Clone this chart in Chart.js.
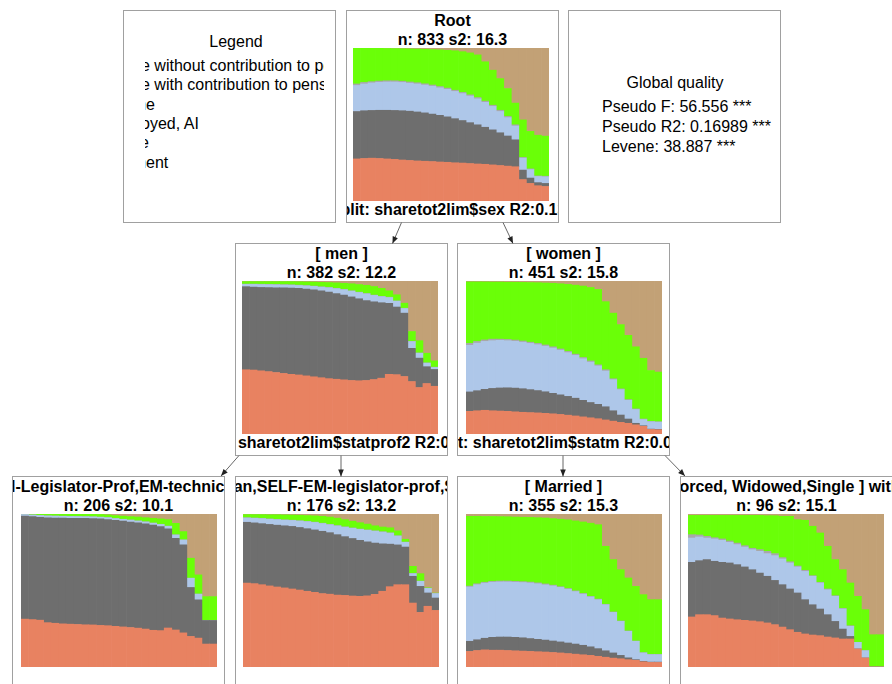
<!DOCTYPE html>
<html>
<head>
<meta charset="utf-8">
<script src="https://cdn.jsdelivr.net/npm/chart.js@4.4.1/dist/chart.umd.min.js"></script>
<style>
  html, body { margin:0; padding:0; background:#fff; }
  body { width:892px; height:684px; overflow:hidden; position:relative;
         font-family:"Liberation Sans", Arial, sans-serif; color:#000; }
  .box { position:absolute; border:1px solid #a0a0a0; box-sizing:border-box; overflow:hidden; background:#fff; }
  .txt { position:absolute; white-space:nowrap; font-size:16px; line-height:18px; }
  .b { font-weight:bold; }
  .c { transform:translateX(-50%); }
  canvas.plot { position:absolute; }
</style>
</head>
<body>
<script>
// ---------------- categories / labels ----------------
const ages = ['40','41','42','43','44','45','46','47','48','49','50','51','52','53','54','55','56','57','58','59','60','61','62','63','64','65'];
const stateLabels = [
  'Employee without contribution to pension',
  'Employee with contribution to pension',
  'Part-time',
  'Unemployed, AI',
  'Housewife',
  'Retirement'
];
const stateColors = ['rgb(232,130,97)','rgb(110,110,110)','rgb(174,199,233)','rgb(168,168,168)','rgb(106,255,8)','rgb(194,161,118)'];

// ------------- values: cumulative share (%) from the bottom up to state k -------------
// Root (n=833)
const root_b1 = [27.5,27.8,28.0,27.8,27.5,27.2,26.8,26.5,26.2,26.0,25.8,25.5,25.3,25.0,24.8,24.5,24.2,24.0,23.6,23.2,22.8,22.4,14.0,11.5,10.0,9.5];
const root_b2 = [58.5,59.0,59.2,59.3,59.3,59.2,59.0,58.7,58.2,57.6,56.8,56.0,55.0,53.8,52.6,51.2,49.8,48.2,46.5,44.6,42.5,40.0,20.2,15.0,12.0,11.5];
const root_b3 = [75.5,76.5,77.2,77.6,77.8,77.8,77.5,77.0,76.5,75.8,75.0,74.0,73.0,71.6,70.2,68.6,66.8,64.5,61.8,58.5,54.5,49.0,28.0,20.5,16.0,15.8];
const root_b4 = [76.5,77.5,78.0,78.4,78.6,78.6,78.3,77.8,77.3,76.6,75.8,74.8,73.8,72.4,71.0,69.4,67.6,65.3,62.6,59.3,55.3,49.8,28.5,21.0,16.4,16.2];
const root_b5 = [100,100,100,99.8,99.7,99.6,99.5,99.4,99.3,99.2,99.0,98.8,98.5,98.2,97.6,96.8,95.5,91.0,85.5,80.0,73.5,64.0,53.0,45.5,43.0,42.4];
// [ men ] (n=382)
const men_b1 = [42.0,41.8,41.3,40.8,40.2,39.6,39.0,38.6,38.0,37.4,36.8,36.2,35.8,35.4,35.0,34.8,35.0,35.6,36.5,39.0,38.8,37.6,34.3,30.4,33.0,31.2];
const men_b2 = [96.3,96.0,95.8,95.7,95.6,95.5,95.4,95.2,94.8,94.2,93.6,92.8,91.8,90.8,89.6,88.4,87.2,86.4,85.8,85.4,83.0,79.0,56.0,49.6,44.0,42.2];
const men_b3 = [97.8,97.8,97.7,97.6,97.5,97.4,97.3,97.1,96.8,96.5,96.0,95.6,95.0,94.3,93.4,92.5,91.6,90.6,89.8,89.2,86.8,82.0,60.4,52.8,46.3,43.5];
const men_b4 = [98.0,98.0,97.9,97.8,97.7,97.6,97.5,97.3,97.0,96.7,96.2,95.8,95.2,94.5,93.6,92.7,91.8,90.8,90.0,89.4,87.0,82.2,60.6,53.0,46.5,43.7];
const men_b5 = [99.6,99.6,99.6,99.6,99.6,99.6,99.6,99.5,99.4,99.3,99.1,99.0,98.8,98.5,98.2,97.7,97.2,96.4,95.2,93.6,91.0,85.5,67.0,61.0,52.8,47.8];
// [ women ] (n=451)
const women_b1 = [14.8,15.2,15.5,15.2,15.0,14.8,14.5,14.2,14.0,13.8,13.5,13.2,12.8,12.3,11.8,11.2,10.6,10.0,9.2,8.4,7.6,7.0,6.0,5.0,3.0,2.8];
const women_b2 = [27.5,28.3,29.2,29.8,30.1,30.2,30.0,29.6,29.0,28.4,27.6,26.6,25.6,24.6,23.4,22.0,20.6,19.4,17.8,15.2,12.4,9.8,7.0,5.4,3.2,3.0];
const women_b3 = [58.0,59.4,60.5,61.0,61.2,61.0,60.6,60.0,59.2,58.4,57.4,56.2,54.8,53.2,51.4,49.2,47.0,44.5,41.2,35.5,29.0,22.0,16.0,9.4,8.0,7.8];
const women_b4 = [59.2,60.5,61.5,62.0,62.0,61.8,61.4,60.8,60.0,59.2,58.2,57.0,55.6,54.0,52.2,50.0,47.8,45.2,42.0,36.1,29.5,22.5,16.4,9.8,8.3,8.0];
const women_b5 = [99.4,99.4,99.4,99.3,99.3,99.2,99.2,99.1,99.0,98.9,98.7,98.5,98.2,97.8,97.3,96.7,95.8,94.5,86.5,79.0,71.5,64.5,57.0,49.5,41.5,40.5];
// statprof2 group 1 (n=206)
const sp1_b1 = [31.3,31.0,30.6,29.0,28.6,28.2,28.0,27.8,27.6,27.5,27.2,27.0,26.6,26.2,25.8,25.4,24.8,24.0,23.8,25.5,24.2,22.3,20.0,18.9,15.0,15.0];
const sp1_b2 = [98.7,98.3,97.8,97.5,97.4,97.3,97.2,97.2,97.1,97.0,96.8,96.4,95.9,95.4,94.8,94.2,93.6,92.8,91.8,90.3,84.1,79.8,52.0,43.9,30.4,30.4];
const sp1_b3 = [99.6,99.3,99.0,98.7,98.6,98.5,98.4,98.3,98.2,98.1,97.9,97.6,97.0,96.5,96.0,95.4,94.8,94.0,93.2,92.0,86.3,83.0,58.0,47.6,30.4,30.4];
const sp1_b4 = [99.7,99.4,99.1,98.8,98.7,98.6,98.5,98.4,98.3,98.2,98.0,97.7,97.1,96.6,96.1,95.5,94.9,94.1,93.3,92.1,86.4,83.1,58.1,47.7,30.5,30.5];
const sp1_b5 = [100,100,100,100,100,100,100,100,100,99.8,99.7,99.4,99.0,98.6,98.3,98.0,97.6,97.2,96.8,96.3,93.9,88.5,71.1,60.2,46.0,46.0];
// statprof2 group 2 (n=176)
const sp2_b1 = [54.9,54.5,53.8,53.0,52.3,51.7,51.0,50.3,49.5,48.8,48.0,47.6,47.0,46.8,46.4,46.2,46.5,47.5,49.5,52.5,53.8,53.8,41.8,35.7,39.7,37.0];
const sp2_b2 = [94.6,94.2,93.7,93.2,92.7,92.3,91.9,91.2,90.4,89.6,88.7,87.8,86.5,85.2,84.0,82.8,81.8,81.0,80.5,80.3,79.8,78.4,59.3,52.7,48.4,45.1];
const sp2_b3 = [97.4,97.2,97.0,96.6,96.3,96.0,95.8,95.4,95.0,94.5,93.8,93.0,92.2,91.4,90.7,90.0,89.4,88.8,88.2,87.5,85.6,81.5,61.0,56.0,51.4,48.0];
const sp2_b4 = [97.6,97.4,97.2,96.8,96.5,96.2,96.0,95.6,95.2,94.7,94.0,93.2,92.4,91.6,90.9,90.2,89.6,89.0,88.4,87.7,85.8,81.7,61.2,56.2,51.5,48.1];
const sp2_b5 = [99.6,99.6,99.6,99.5,99.5,99.4,99.3,99.2,99.0,98.8,98.5,98.0,97.3,96.3,95.3,94.3,93.4,92.3,91.5,91.0,89.0,83.5,65.8,61.0,51.8,48.3];
// [ Married ] (n=355)
const mar_b1 = [10.2,10.8,11.2,11.0,11.0,10.8,10.6,10.4,10.2,10.0,9.8,9.5,9.2,8.8,8.4,8.0,7.6,7.0,6.4,5.8,5.4,4.8,4.4,3.4,3.0,3.0];
const mar_b2 = [16.8,17.8,18.8,19.4,19.6,19.6,19.4,19.1,18.6,18.1,17.6,17.0,16.4,15.7,15.0,14.2,13.2,12.0,10.6,9.2,7.6,6.0,4.8,3.7,3.2,3.2];
const mar_b3 = [52.3,53.8,54.8,55.4,55.6,55.6,55.4,55.2,54.9,54.4,53.7,53.0,52.0,50.8,49.3,47.6,45.8,44.0,40.7,35.7,29.8,23.3,16.8,9.2,8.1,8.1];
const mar_b4 = [52.9,54.4,55.4,56.0,56.2,56.2,56.0,55.8,55.5,55.0,54.3,53.5,52.5,51.3,49.8,48.1,46.2,44.4,41.0,36.0,30.1,23.6,17.0,9.4,8.3,8.3];
const mar_b5 = [98.5,98.5,98.4,98.4,98.3,98.2,98.0,97.9,97.8,97.6,97.4,97.0,96.6,96.2,95.5,94.8,94.0,93.0,78.9,70.2,63.6,58.2,52.7,47.3,44.0,44.0];
// [ Divorced, Widowed, Single ] (n=96)
const dws_b1 = [32.7,34.2,34.2,33.6,32.0,31.4,30.9,30.5,30.1,29.6,28.8,27.7,26.1,24.4,22.7,21.6,20.9,20.5,19.6,19.0,18.3,18.3,11.8,5.9,0,0];
const dws_b2 = [68.4,69.5,70.2,69.1,68.4,68.0,66.9,65.4,63.6,61.4,59.3,56.6,53.8,51.0,48.4,44.0,40.7,37.9,34.2,29.8,24.8,20.0,11.8,5.9,0,0];
const dws_b3 = [84.3,85.0,84.3,83.7,82.8,81.5,80.0,78.4,76.7,75.6,74.1,72.8,70.6,68.0,65.4,62.5,59.3,54.9,50.5,46.2,37.9,26.6,16.1,10.7,0,0];
const dws_b4 = [86.5,86.3,85.4,84.5,83.7,82.4,81.0,79.3,77.6,76.7,75.6,74.1,71.5,68.8,66.0,63.2,59.7,55.3,51.0,46.6,38.3,27.0,16.1,10.7,0,0];
const dws_b5 = [99.1,99.1,99.1,99.1,99.1,99.1,99.1,99.1,99.1,99.1,98.9,98.9,98.5,98.5,96.3,95.9,92.0,87.6,78.9,70.2,63.6,54.9,46.2,37.5,21.1,21.1];

// ---------------- texts ----------------
const legendLines = [
  {text:'Employee without contribution to pension', from:7, x:-4},
  {text:'Employee with contribution to pension', from:7, x:-4},
  {text:'Part-time', from:8, x:1},
  {text:'Unemployed, AI', from:6, x:-4},
  {text:'Housewife', from:8, x:-5},
  {text:'Retirement', from:7, x:1}
];
const qualityLines = ['Pseudo F: 56.556 ***', 'Pseudo R2: 0.16989 ***', 'Levene: 38.887 ***'];

// ---------------- layout ----------------
const nodes = [
  {box:[346,10],  plot:[353,48],  title:'Root', stat:'n: 833 s2: 16.3', split:'Split: sharetot2lim$sex R2:0.132', dx:0,
   b:[root_b1,root_b2,root_b3,root_b4,root_b5]},
  {box:[235,243], plot:[242,281], title:'[ men ]', stat:'n: 382 s2: 12.2', split:'Split: sharetot2lim$statprof2 R2:0.0712', dx:0,
   b:[men_b1,men_b2,men_b3,men_b4,men_b5]},
  {box:[457,243], plot:[466,281], title:'[ women ]', stat:'n: 451 s2: 15.8', split:'Split: sharetot2lim$statm R2:0.0474', dx:0,
   b:[women_b1,women_b2,women_b3,women_b4,women_b5]},
  {box:[12,476],  plot:[21,514],  title:'[ Civil-Legislator-Prof,EM-technician ]', stat:'n: 206 s2: 10.1', split:null, dx:-4,
   b:[sp1_b1,sp1_b2,sp1_b3,sp1_b4,sp1_b5]},
  {box:[235,476], plot:[243,514], title:'[ Artisan,SELF-EM-legislator-prof,SELF ]', stat:'n: 176 s2: 13.2', split:null, dx:0,
   b:[sp2_b1,sp2_b2,sp2_b3,sp2_b4,sp2_b5]},
  {box:[457,476], plot:[466,514], title:'[ Married ]', stat:'n: 355 s2: 15.3', split:null, dx:0,
   b:[mar_b1,mar_b2,mar_b3,mar_b4,mar_b5]},
  {box:[680,476], plot:[688,514], title:'[ Divorced, Widowed,Single ] with NA', stat:'n: 96 s2: 15.1', split:null, dx:0,
   b:[dws_b1,dws_b2,dws_b3,dws_b4,dws_b5]}
];
const BOX = 213, PW = 196, PH = 153;

function el(tag, cls, parent) { const e = document.createElement(tag); if (cls) e.className = cls; (parent||document.body).appendChild(e); return e; }
function makeBox(x, y, w, h) { const d = el('div','box'); Object.assign(d.style,{left:x+'px',top:y+'px',width:w+'px',height:h+'px'}); return d; }
function centerText(parent, ox, oy, txt, cx, cy, bold) {
  const s = el('div', 'txt c' + (bold ? ' b' : ''), parent);
  s.textContent = txt;
  s.style.left = (cx - ox - 1) + 'px';
  s.style.top = (cy - oy - 1 - 9) + 'px';
  return s;
}

// legend box
const lg = makeBox(123, 10, BOX, BOX);
centerText(lg, 123, 10, 'Legend', 236, 42, false);
const clip = el('div', null);
Object.assign(clip.style, {position:'absolute', left:'145px', top:'0px', width:'179px', height:'222px', overflow:'hidden'});
const mctx = document.createElement('canvas').getContext('2d');
mctx.font = '16px "Liberation Sans", Arial, sans-serif';
const legendY = [66, 85, 104.5, 124, 143, 162.5];
legendLines.forEach((l, i) => {
  const s = el('div', 'txt', clip);
  s.textContent = l.text;
  const pre = mctx.measureText(l.text.slice(0, l.from)).width;
  s.style.left = (l.x - pre) + 'px';
  s.style.top = (legendY[i] - 9) + 'px';
});

// global quality box
const gq = makeBox(568, 10, BOX, BOX);
centerText(gq, 568, 10, 'Global quality', 675, 83, false);
const qY = [107, 127, 146.5];
qualityLines.forEach((q, i) => {
  const s = el('div', 'txt', gq);
  s.textContent = q;
  s.style.left = (602 - 569) + 'px';
  s.style.top = (qY[i] - 11 - 9) + 'px';
});

// tree nodes
function shares(b) {
  const out = [];
  for (let k = 0; k < 6; k++) {
    out.push(ages.map((_, i) => {
      const lo = k === 0 ? 0 : b[k-1][i];
      const hi = k === 5 ? 100 : b[k][i];
      return Math.max(0, Math.round((hi - lo) * 100) / 100);
    }));
  }
  return out;
}
nodes.forEach(n => {
  const [bx, by] = n.box;
  const d = makeBox(bx, by, BOX, BOX);
  centerText(d, bx, by, n.title, bx + 106.5 + n.dx, by + 10.5, true);
  centerText(d, bx, by, n.stat, bx + 106.5, by + 29.5, true);
  if (n.split) centerText(d, bx, by, n.split, bx + 106.5, by + 199.5, true);
  const cv = el('canvas', 'plot');
  cv.width = PW; cv.height = PH;
  cv.style.left = n.plot[0] + 'px'; cv.style.top = n.plot[1] + 'px';
  const sh = shares(n.b);
  new Chart(cv.getContext('2d'), {
    type: 'bar',
    data: {
      labels: ages,
      datasets: sh.map((data, k) => ({
        label: stateLabels[k], data, backgroundColor: stateColors[k],
        borderWidth: 0, barPercentage: 1, categoryPercentage: 1
      }))
    },
    options: {
      responsive: false, animation: false, events: [],
      layout: { padding: 0 },
      plugins: { legend: { display: false }, tooltip: { enabled: false } },
      scales: {
        x: { stacked: true, display: false },
        y: { stacked: true, display: false, min: 0, max: 100 }
      }
    }
  });
});

// connectors
const NS = 'http://www.w3.org/2000/svg';
const svg = document.createElementNS(NS, 'svg');
svg.setAttribute('width', 892); svg.setAttribute('height', 684);
Object.assign(svg.style, {position:'absolute', left:'0px', top:'0px', pointerEvents:'none'});
document.body.appendChild(svg);
const edges = [
  [401.5,222.5, 392.5,243.5], [503,222.5, 513,243.5],
  [239,455.5, 221,476], [341,455.5, 341,476.5],
  [563,455.5, 563,476.5], [665,455.5, 685,476]
];
edges.forEach(([x1,y1,x2,y2]) => {
  const ln = document.createElementNS(NS, 'line');
  ln.setAttribute('x1', x1); ln.setAttribute('y1', y1); ln.setAttribute('x2', x2); ln.setAttribute('y2', y2);
  ln.setAttribute('stroke', '#666'); ln.setAttribute('stroke-width', '1');
  svg.appendChild(ln);
  const dx = x2 - x1, dy = y2 - y1, L = Math.hypot(dx, dy), ux = dx / L, uy = dy / L;
  const bxp = x2 - ux * 7, byp = y2 - uy * 7;
  const p = document.createElementNS(NS, 'polygon');
  p.setAttribute('points', `${x2},${y2} ${bxp - uy*2.8},${byp + ux*2.8} ${bxp + uy*2.8},${byp - ux*2.8}`);
  p.setAttribute('fill', '#222');
  svg.appendChild(p);
});
</script>
</body>
</html>
